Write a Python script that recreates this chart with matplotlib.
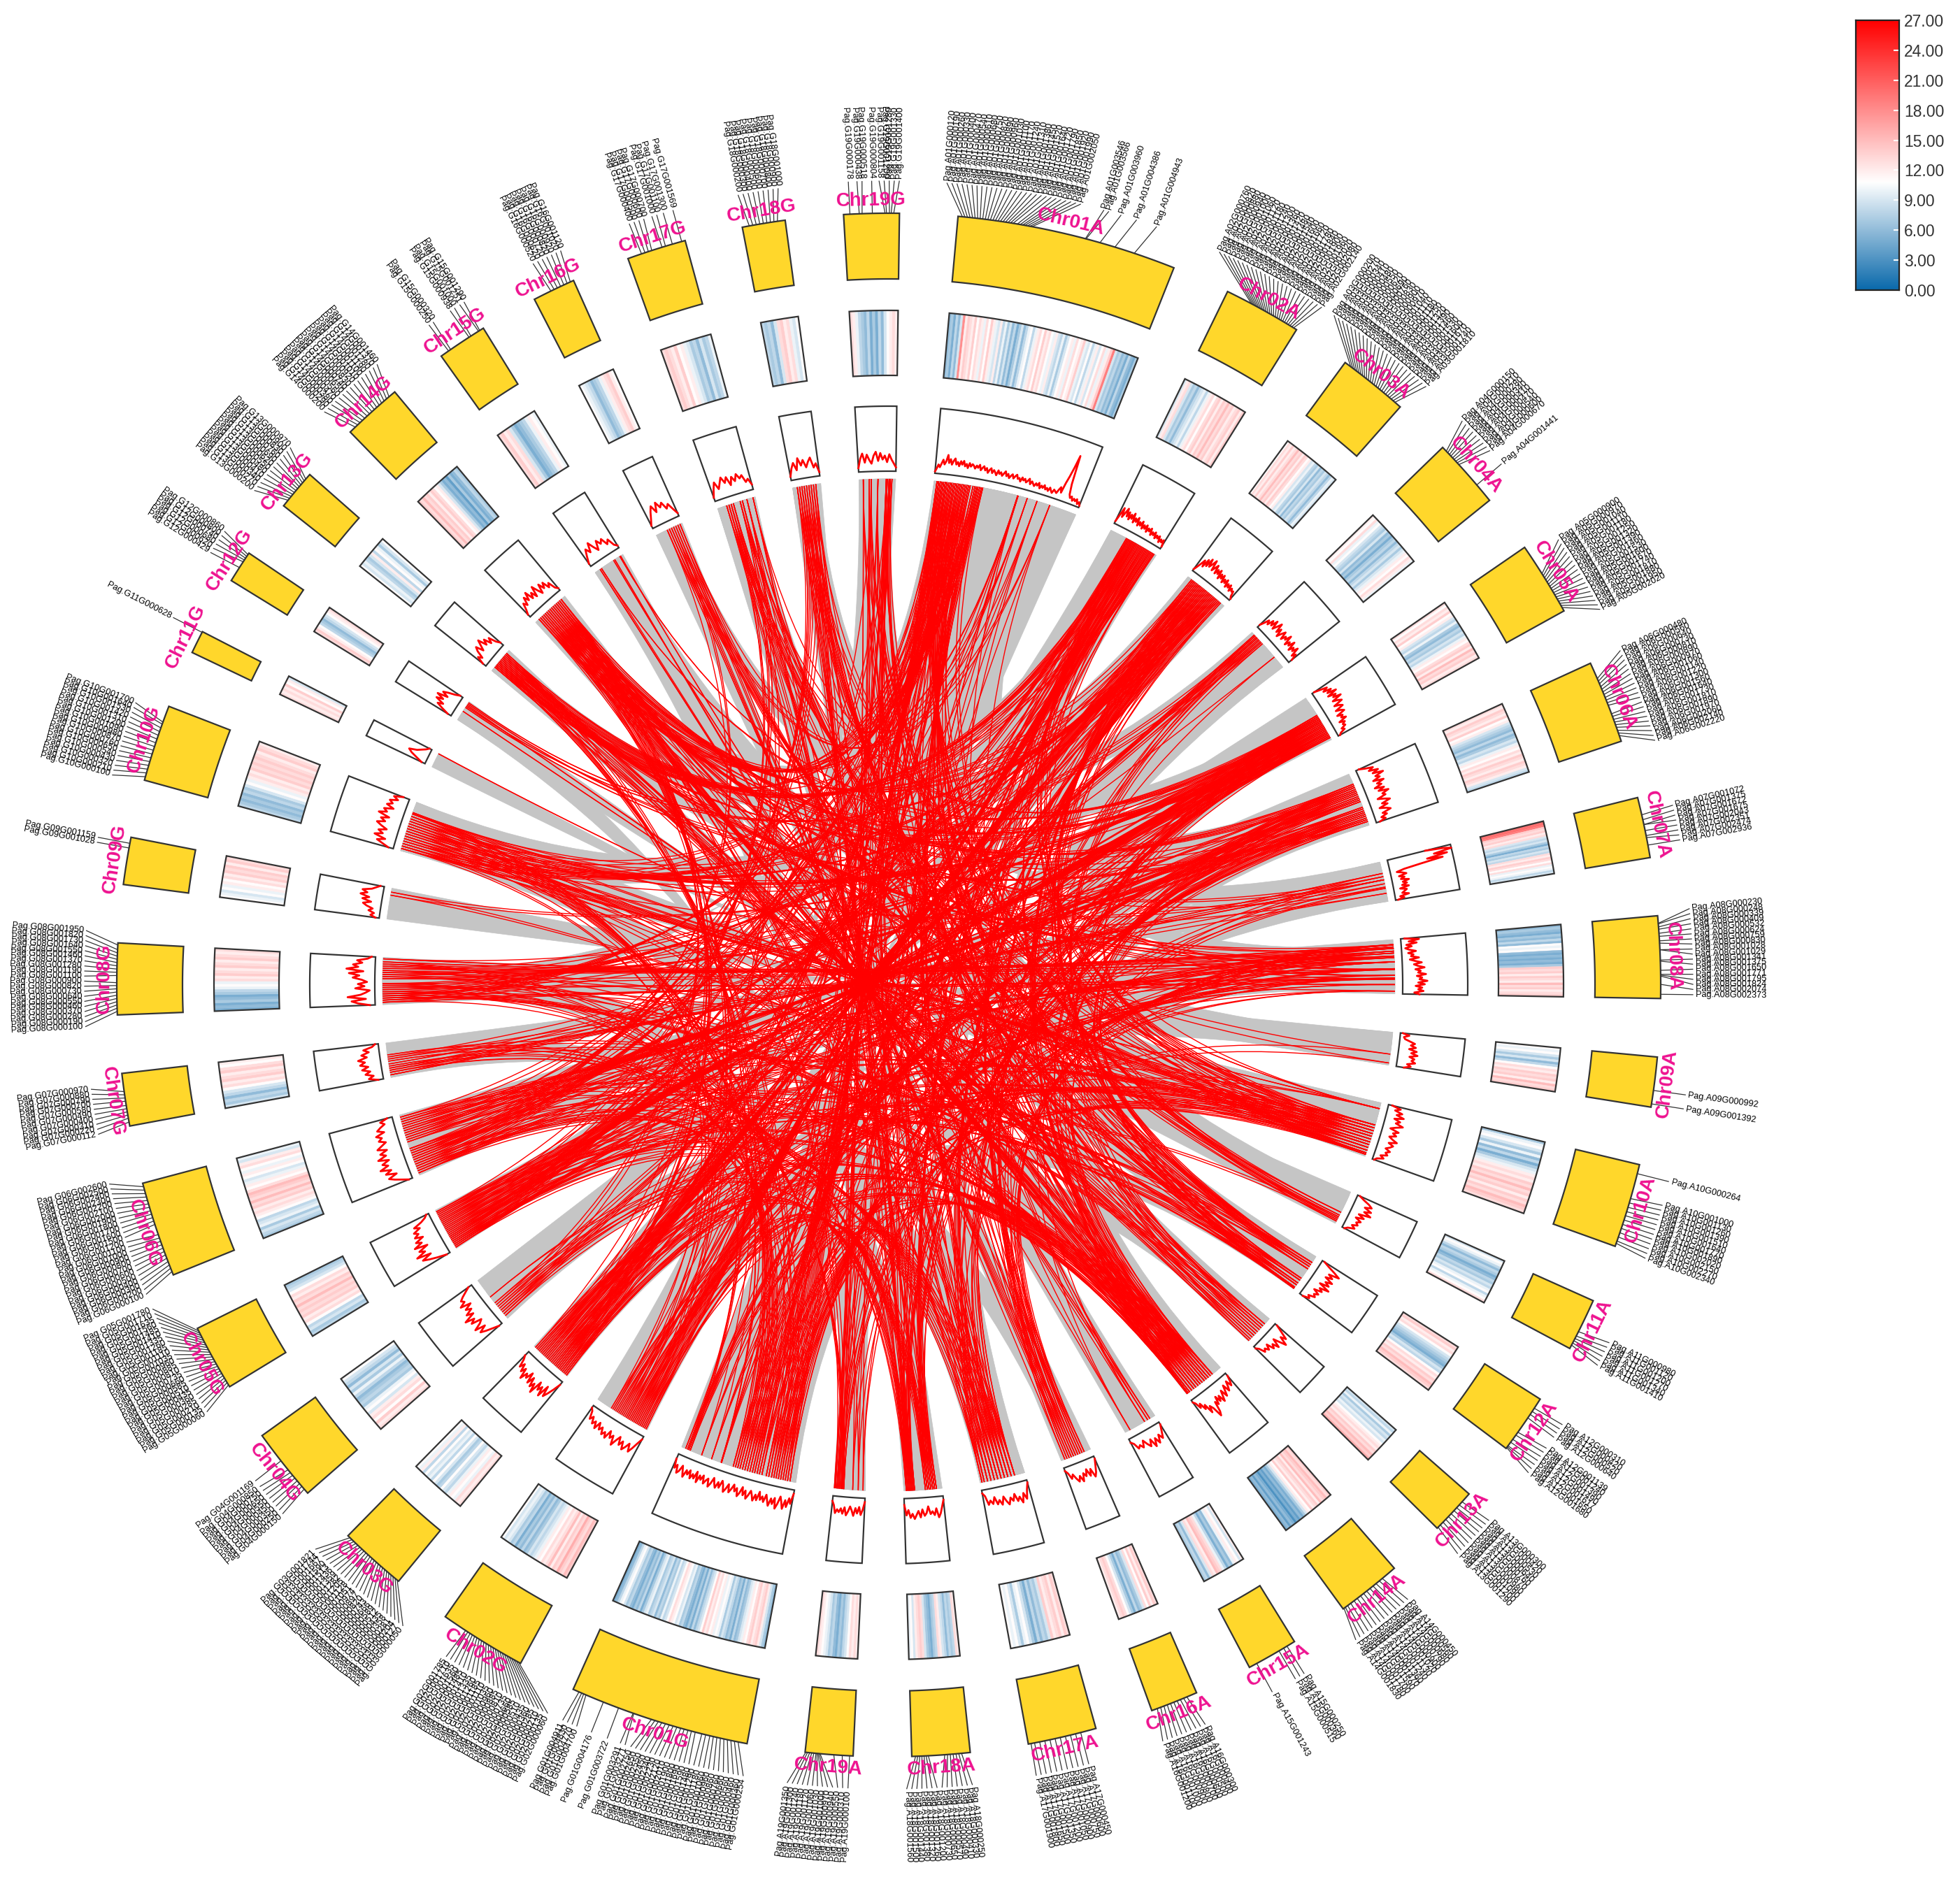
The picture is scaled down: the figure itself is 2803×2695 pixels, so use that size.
import numpy as np
import matplotlib
matplotlib.use('Agg')
import matplotlib.pyplot as plt
from matplotlib.collections import PolyCollection, LineCollection
from matplotlib.colors import LinearSegmentedColormap, Normalize
from matplotlib.patches import Polygon

plt.rcParams['font.family'] = ['Liberation Sans', 'DejaVu Sans']

chroms = ['01A','02A','03A','04A','05A','06A','07A','08A','09A','10A','11A','12A','13A','14A','15A','16A','17A','18A','19A',
          '01G','02G','03G','04G','05G','06G','07G','08G','09G','10G','11G','12G','13G','14G','15G','16G','17G','18G','19G']
# chromosome lengths (Mb)
chrom_len = [66.1,23.4,21,21,22.2,24.9,18.2,24.6,15,25.3,15.8,17.8,13.9,19.4,15.4,14.3,20.6,17.4,14.3,
             54.2,26.3,20.2,21.8,19.8,28.7,15.8,21.4,14.2,23.1,6.9,9.7,12.1,17.8,15,12.9,17.8,12.9,16.6]
# number of annotated genes per chromosome
chrom_genes = [6100,2240,2010,2010,2130,2390,3700,2500,1490,2430,1520,1710,1330,1860,1480,1370,1980,1670,1370,
               5090,2470,1900,2050,1860,2700,1480,2010,1330,2170,650,910,1140,1670,1410,1220,1670,1220,1560]

gene_ids = {
'01A':[120,190,260,330,400,470,540,610,680,750,820,890,960,1030,1100,1170,1240,1310,1380,1450,1520,1640,1720,1790,1850,1920,1990,2050,3546,3566,3960,4386,4943],
'02A':[760,820,880,940,1000,1060,1120,1180,1240,1300,1360,1420,1480,1540,1600,1660,1720,1780,1840,1900,1960,2020,2080,2140],
'03A':[200,270,340,410,480,550,620,690,760,830,900,970,1040,1110,1180,1250,1320,1390,1460,1530,1600,1670,1740,1810],
'04A':[150,210,280,340,410,470,540,600,670,1441],
'05A':[900,970,1040,1110,1180,1250,1320,1390,1460,1530,1600,1670,1740,1810,1880,1950,2020],
'06A':[480,560,640,730,810,890,970,1060,1140,1220,1300,1560,1640,1730,1810,1890,1970,2060,2140,2220],
'07A':[1072,1375,1672,1675,2043,2351,2474,2936],
'08A':[230,248,339,409,532,624,759,830,1028,1029,1341,1375,1650,1771,1795,1824,2074,2373],
'09A':[992,1392],
'10A':[264,1000,1130,1260,1390,1510,1640,1770,1890,2020,2150,2270,2340],
'11A':[980,1120,1200,1270,1340,1410],
'12A':[310,420,520,640,1139,1240,1390,1490,1617,1650,1680],
'13A':[300,420,530,640,760,870,980,1090,1200,1290],
'14A':[450,560,680,790,900,1020,1130,1240,1360,1470,1590,1700,1780,1830],
'15A':[250,360,515,1243],
'16A':[300,400,500,600,700,800,900,1000,1100,1200],
'17A':[450,600,750,900,1050,1200,1350,1500,1650,1800,1900],
'18A':[250,330,410,490,570,650,730,1200,1260,1320,1380,1440,1500,1560],
'19A':[100,310,550,940,970,1000,1030,1060,1120,1180,1240,1300,1350],
'01G':[254,360,460,560,660,760,860,960,1060,1180,1290,1480,1590,1690,1800,1900,2010,2120,2230,2340,2450,2550,2650,2750,3271,3291,3722,4176,4700,4770,4830,4911],
'02G':[60,135,210,285,360,435,510,585,660,735,810,885,960,1035,1110,1185,1260,1335,1410,1485,1560,1635,1710,1785],
'03G':[50,127,204,281,358,435,512,589,666,743,820,897,974,1051,1128,1205,1282,1359,1436,1513,1590,1667,1744,1821],
'04G':[150,250,350,450,550,650,750,850,1169],
'05G':[60,135,210,285,360,435,510,585,660,735,810,885,960,1035,1110,1185,1260,1335,1410,1485,1560,1635,1710,1780],
'06G':[100,200,300,400,500,600,700,800,900,1000,1100,1200,1500,1600,1700,1800,1900,2000,2100,2200,2300,2400,2500,2600],
'07G':[112,220,310,400,490,580,700,790,880,970],
'08G':[100,190,280,370,460,550,640,730,820,900,1100,1190,1280,1370,1460,1550,1640,1730,1820,1950],
'09G':[1028,1159],
'10G':[100,210,320,430,540,650,760,870,980,1090,1200,1310,1420,1530,1640,1700],
'11G':[628],
'12G':[429,620,680,740,800,860],
'13G':[200,270,340,410,480,550,620,690,760,830,900,970],
'14G':[200,290,380,470,560,650,740,830,920,1010,1100,1190,1280,1370,1460],
'15G':[250,320,938,1000,1251,1290],
'16G':[520,620,720,820,920,1020,1120],
'17G':[400,500,600,700,1000,1100,1300,1569],
'18G':[200,300,400,500,600,700,800,900,1000],
'19G':[178,438,518,804,1158,1200,1280,1330,1400],
}

# label block offset from the gene loci, degrees
label_shift = {'02A':-1.4,'03A':-1.1,'02G':-1.7,'03G':-0.6,'05G':1.0,'01A':0.9}

link_targets = {
'01A':['01G','01G','08G','11A','06G','01G','14G','03G','14A','05G','17A','13G'],
'02A':['02G','02G','10G','01G','16A','13G','05G','10A','18A'],
'03A':['03G','03G','06G','14G','12A','01G','08G','17A','14A'],
'04A':['04G','10G','05G','12A','16A'],
'05A':['05G','05G','01G','10G','17A','13G','03G','14A'],
'06A':['06G','06G','01G','14G','18A','08G','05G','02G','12A'],
'07A':['07G','14G','10G','01G','14A'],
'08A':['08G','08G','01G','13G','16A','06G','14G','03G','19A'],
'09A':['13G','01G'],
'10A':['10G','10G','02A','17G','03G','19G','01A','14G','05A'],
'11A':['16G','01A','05G','17G','03A'],
'12A':['19G','14G','03A','18G','01A','16G','06A'],
'13A':['13G','18G','02A','14G','01A','05A'],
'14A':['14G','14G','19G','03A','17G','01A','08G','06A'],
'15A':['15G','01A','06A','19G'],
'16A':['16G','19G','05A','03A','01A','08A'],
'17A':['17G','01A','18G','05A','06A','14G','03A','10A'],
'18A':['18G','19G','02A','01A','17G','06A','08A','03A'],
'19A':['19G','01A','18G','05A','14G','02A','08A'],
'01G':['01A','01A','17A','06A','10G','14A','03A','10A','18A','06G','19G','13G'],
'02G':['02A','02A','14A','06A','18A','08A','10G','01A','14G'],
'03G':['03A','03A','18A','10A','14A','05A','01A','08A','14G'],
'04G':['04A','10A','18A','14A','14G'],
'05G':['05A','05A','14A','17A','08A','10A','02A','12A','17G'],
'06G':['06A','06A','12A','17A','08A','14A','01A','10A','18G'],
'07G':['07A','18A','12A','05A','01G'],
'08G':['08A','08A','13A','19A','05A','14A','03A','10A','01G'],
'09G':['05A','12A'],
'10G':['10A','10A','05A','01A','12A','14A','03A','01G'],
'11G':['10A'],
'12G':['12A','06A','03A'],
'13G':['13A','02A','08A','14A','01G'],
'14G':['14A','14A','01A','05A','10A','17A','06A','03G'],
'15G':['15A','05A','14A'],
'16G':['16A','12A','01A','06G'],
'17G':['17A','12A','05A','10A','03G'],
'18G':['18A','13A','08A','01A','06G'],
'19G':['19A','01A','12A','14A','18A','05G'],
}

# gene-density stripes per chromosome
heat_values = {
'01A':[6,7,5,8,6,9,18,12,14,13,12,14,11,13,12,10,13,11,14,12,10,9,12,8,10,7,9,6,8,5,7,9,6,8,10,11,8,10,12,13,11,14,12,13,11,10,12,9,8,10,7,9,11,12,10,13,11,12,14,10,9,11,8,10,12,9,11,13,10,12,14,19,9,7,8,6,7,5,8,6,5,7],
'02A':[9,12,13,9,7,8,6,8,9,10,8,10,12,13,11,13,14,12,14,13,15,13,14,12,13,14,12,14],
'03A':[11,13,12,14,12,13,15,13,14,12,14,13,11,12,9,10,8,7,9,6,8,7,9,8,6,8,10,9],
'04A':[12,11,13,10,11,9,8,7,9,6,7,5,7,8,6,8,9,7,9,10,12,11,13,12,10],
'05A':[13,11,13,12,14,11,12,9,8,10,7,6,8,7,9,8,10,12,11,13,14,12,15,13,14,12,13],
'06A':[13,12,14,13,12,14,11,12,9,8,7,6,8,6,7,9,8,10,12,11,13,12,14,13,12,14,13,12,9,8],
'07A':[20,20,19,14,13,14,12,13,9,8,9,7,5,8,7,9,8,13,12,14,13,11,13,10,11,10,8,9],
'08A':[6,7,6,5,7,6,8,6,11,10,11,6,5,6,5,6,5,7,14,13,14,12,14,13,12,15,13,14,12,13,14],
'09A':[11,10,11,9,7,9,6,8,11,13,12,14,13,14,12,15,13,14],
'10A':[7,10,11,9,7,10,6,8,5,7,9,10,12,13,12,14,13,15,13,14,12,14,13,15,14,13],
'11A':[9,11,10,8,6,8,7,5,6,8,7,9,8,10,11,8,10,11,13],
'12A':[13,14,12,13,11,9,8,7,6,5,7,9,8,11,13,12,14,13,15,14,13],
'13A':[9,8,10,7,9,8,10,9,11,12,13,12,14,13,15,14,16],
'14A':[14,13,15,14,13,15,12,14,13,12,14,11,12,9,7,5,6,4,5,3,5,6,4,6,5],
'15A':[12,9,11,12,10,6,7,5,8,10,13,14,15,12,13,9,6,8,7],
'16A':[13,14,12,14,11,13,9,7,6,8,5,7,9,11,13,14,13,12],
'17A':[13,14,12,14,13,12,14,9,7,8,6,8,5,7,9,11,10,7,9,11,10,11],
'18A':[12,13,8,7,8,6,8,9,12,13,8,7,5,6,7,9,13,14,13,12,9,11,10],
'19A':[12,13,12,13,11,9,8,6,7,5,6,8,7,9,10,11,12,13],
'01G':[6,7,9,12,14,13,12,14,13,11,12,10,9,7,6,8,5,7,6,8,9,7,10,11,10,12,11,13,12,14,11,9,8,6,8,5,7,5,6,8,7,10,9,11,12,13,11,9,8,10,7,8,6,9,8,7,10,9,7,5,8,6,7,5,6,8,7,9,11,10,8,6,5],
'02G':[14,15,13,14,16,13,14,12,15,13,12,13,11,12,10,9,8,9,7,6,8,6,7,5,8,7,9,10,9,11],
'03G':[13,12,13,10,11,12,10,8,9,11,8,7,9,11,8,10,9,11,8,12,10,11],
'04G':[13,12,14,11,13,12,9,11,10,7,8,7,6,8,10,7,9,6,8,9,11],
'05G':[8,7,9,8,11,13,12,14,13,14,13,15,13,14,12,13,11,9,8,7],
'06G':[7,8,9,7,10,9,8,11,12,13,12,14,13,15,13,14,15,13,11,12,10,9,11,12,10,11,13,12,9,10],
'07G':[9,7,8,6,8,9,11,13,12,14,13,12,14,13,11,12],
'08G':[5,6,5,7,6,5,7,8,10,11,10,13,12,14,13,12,14,13,12,14,13,12,13],
'09G':[11,10,9,11,10,12,11,13,12,14,13,14,12,14,13],
'10G':[8,7,6,7,6,8,7,9,11,10,12,13,12,14,13,14,13,14,13,12,14,13,12],
'11G':[13,12,13,12,14,11,12,9],
'12G':[13,14,12,11,8,7,6,8,9,11,12,13],
'13G':[11,9,10,8,7,9,12,8,11,10,7,9,11],
'14G':[14,13,15,13,14,12,14,13,11,12,9,7,5,6,4,7,5,6,8,7],
'15G':[13,14,12,13,9,7,5,6,7,8,10,12,11,10],
'16G':[11,10,9,8,6,7,8,10,12,13,14,12,11],
'17G':[13,14,13,12,14,11,12,10,9,7,8,6,9,7,8,10],
'18G':[8,7,8,6,9,13,14,12,13,10,9,11],
'19G':[13,12,10,8,7,6,8,5,7,5,8,6,9,11,12,13,12],
}

# line track, % of the track height
line_values = {
'01A':[3,8,14,10,16,22,15,20,30,18,24,16,22,26,17,21,15,23,18,24,16,20,14,22,17,21,19,15,20,17,22,14,18,21,15,19,12,17,20,13,18,15,11,19,14,17,12,16,20,13,17,11,15,18,12,16,19,13,15,10,17,13,16,11,14,18,10,15,12,9,14,11,16,8,13,10,15,9,12,8,14,10,7,13,11,9,15,20,12,28,40,55,75,30,14,9,12,6,10,7,11,4,8,3],
'02A':[4,16,28,14,22,30,18,26,15,24,18,28,14,22,17,25,13,20,15,23,12,19,14,21,11,18,14,20,10,16,12,18,9,15,11,16,7,13,9,14,4],
'03A':[3,9,16,24,14,28,18,32,20,26,34,18,24,30,17,25,19,27,14,23,17,24,13,20,15,22,11,18,13,19,10,16,12,14,6,3],
'04A':[5,12,20,14,24,17,28,15,22,30,16,24,12,20,26,14,22,18,28,13,21,16,26,12,20,15,24,10,16,6],
'05A':[4,14,24,16,28,20,34,18,30,24,36,20,28,33,18,26,30,16,24,28,14,22,18,25,12,20,15,18,10,14,6,3],
'06A':[5,14,26,18,32,22,38,24,30,18,34,22,28,16,30,20,35,24,28,14,24,32,18,26,12,22,28,14,20,10,16,6],
'07A':[60,88,100,72,92,60,84,50,22,10,18,24,12,20,14,26,16,22,14,24,10,20,16,12,22,8,14,4],
'08A':[6,28,12,24,8,16,6,12,22,10,18,14,26,12,20,30,18,24,34,20,28,24,36,22,30,26,38,24,34,20,30,24,32,18,26],
'09A':[4,14,6,8,16,24,18,26,16,28,20,30,18,26,22,28,16,22,12],
'10A':[6,20,12,24,16,28,14,24,18,30,20,12,26,18,24,14,20,28,16,24,20,14,22,16,20,10,16,6,3],
'11A':[4,12,22,28,18,30,20,32,14,24,12,22,16,20,12,18,8,4],
'12A':[4,14,26,36,20,28,18,32,22,30,16,34,20,26,14,24,18,22,12,16,6],
'13A':[4,16,28,20,34,24,14,28,18,24,12,20,14,18,8,4],
'14A':[5,14,20,10,18,24,12,20,28,16,24,32,20,28,18,30,24,40,46,30,24,34,18,24,12,18,8,4],
'15A':[4,14,24,16,28,18,30,16,26,20,12,22,16,20,10,6],
'16A':[4,14,24,30,16,26,14,24,18,30,20,28,22,14,20,10,5],
'17A':[4,14,28,18,32,22,28,16,26,20,30,24,16,28,20,26,14,24,18,24,10,5],
'18A':[6,16,26,32,18,28,22,26,14,24,28,18,30,20,26,32,24,30,18,26,10],
'19A':[6,18,26,14,24,16,28,20,14,22,28,16,26,18,24,20,26,14,8],
'01G':[6,22,14,28,18,32,22,14,26,34,18,28,20,32,24,16,28,20,26,14,28,20,30,22,16,24,30,18,26,14,24,30,18,24,14,22,28,16,24,30,20,14,26,18,28,22,14,24,30,18,22,28,16,24,18,30,14,26,20,28,16,24,18,30,22,14,24,28,16,22,8],
'02G':[5,14,24,32,20,28,34,22,30,18,26,36,22,28,18,32,24,30,20,26,16,28,18,24,14,20,8,4],
'03G':[6,18,28,36,20,40,26,34,22,44,30,38,24,36,20,32,26,38,22,30,18,26,14,8],
'04G':[6,16,26,34,22,38,26,20,36,28,42,24,34,22,30,18,34,24,28,22,14,6],
'05G':[6,20,32,42,26,48,32,40,24,44,30,38,24,36,28,34,22,30,16,8,4],
'06G':[6,16,26,34,20,36,26,42,28,36,24,40,26,34,22,36,28,20,30,24,32,18,28,22,14,20,8],
'07G':[8,22,14,26,18,30,20,32,24,34,20,28,16,24,10,5],
'08G':[8,26,36,14,42,22,14,8,30,16,26,12,20,34,24,40,18,44,26,34,20,28,12,6],
'09G':[6,14,9,18,12,22,28,16,30,20,34,24,32,18,12,6],
'10G':[8,18,28,16,34,22,30,18,28,36,24,32,20,38,26,32,18,30,22,28,16,24,10],
'11G':[6,16,26,32,20,14,8,4],
'12G':[6,18,28,20,34,24,36,20,30,22,12,5],
'13G':[6,18,12,24,30,18,26,34,20,28,16,24,12,6],
'14G':[5,12,22,16,28,20,32,18,26,16,32,22,14,28,18,26,14,20,8,4],
'15G':[5,16,26,18,32,22,14,28,20,26,14,20,8,4],
'16G':[5,14,24,32,20,34,24,30,18,24,14,5],
'17G':[6,18,28,16,24,32,22,30,16,28,20,30,22,26,14,18,8],
'18G':[6,18,26,14,32,20,28,16,24,30,14,20,6],
'19G':[6,20,28,14,26,18,12,24,30,16,28,18,24,14,26,18,12,6],
}

# extra paralogous synteny blocks besides A/G homeologues:
# chromosome, start %, end %, partner, start %, end %
extra_blocks = [
('01A',40,100,'08G',0,70),('01A',0,40,'14G',20,90),('02A',0,60,'05G',10,80),('03A',20,90,'10G',0,70),
('04A',0,60,'13G',10,90),('05A',10,80,'01G',30,50),('06A',10,70,'02G',0,70),('07A',0,70,'16G',10,90),
('08A',20,90,'03G',10,80),('09A',0,80,'06G',30,70),('10A',30,90,'04G',0,70),('11A',10,90,'19G',10,90),
('12A',10,80,'14G',40,90),('13A',0,90,'17G',0,80),('14A',0,60,'01G',60,80),('15A',0,90,'18G',0,80),
('16A',10,90,'07G',0,80),('17A',0,80,'10G',20,90),('18A',20,80,'12G',0,100),('19A',10,90,'15G',0,90),
('02A',50,100,'17A',0,60),('05A',30,90,'14A',20,80),('08A',10,60,'01A',60,80),('03G',20,90,'12A',20,90),
('06G',10,80,'18A',10,70),('08G',50,100,'16A',10,80),('10G',30,100,'03A',0,50),('14G',10,70,'06A',60,100),
('01G',0,30,'10A',20,80),('01G',80,100,'05A',40,90),('05G',10,70,'13A',10,80),('02G',50,100,'19G',0,90),
('01A',20,70,'06G',0,60),('03A',0,60,'17A',30,90),('04A',30,100,'18A',20,90),('06A',40,100,'14A',0,60),
('07A',20,100,'01G',40,60),('09A',20,100,'13G',0,80),('10A',0,60,'05G',30,90),('12A',30,100,'03G',0,60),
('14A',30,100,'10G',0,60),('17A',30,100,'08G',20,80),('19A',0,80,'01A',30,50),('18G',0,90,'06A',20,70),
('16G',0,90,'05A',20,70),('17G',0,90,'12A',0,70),('13G',0,80,'02A',30,80),('15G',0,90,'10A',40,80),
]

CX, CY = 1271.0, 1409.0
CTRL = (1236.0, 1405.0)
GAP = 4.355
START = 5.15
R_YEL = (1010, 1104)
R_HEAT = (872, 965)
R_LINE = (735, 828)
R_LINK = 724
R_LEAD = 1150
R_TEXT = 1154
R_NAME = 1122
YELLOW = '#FFD72B'
EDGE = '#333333'
GREY = '#C5C5C5'
PINK = '#EE1290'

scale = (360 - GAP * len(chroms)) / sum(chrom_len)
angles = {}
a = START
for c, l in zip(chroms, chrom_len):
    angles[c] = (a, a + l * scale)
    a += l * scale + GAP
genes_of = dict(zip(chroms, chrom_genes))


def xy(r, deg):
    t = np.radians(deg)
    return CX + r * np.sin(t), CY - r * np.cos(t)


def sector_poly(r0, r1, a0, a1, n=40):
    t = np.linspace(a0, a1, n)
    x1, y1 = xy(r1, t)
    x0, y0 = xy(r0, t[::-1])
    return np.column_stack([np.r_[x1, x0], np.r_[y1, y0]])


def frac_angle(c, f):
    a0, a1 = angles[c]
    return a0 + (a1 - a0) * f


def bezier(p0, p1, n=40):
    s = np.linspace(0, 1, n)[:, None]
    p0 = np.array(p0)
    p1 = np.array(p1)
    return (1 - s) ** 2 * p0 + 2 * s * (1 - s) * np.array(CTRL) + s ** 2 * p1


def ribbon(c1, f0, f1, c2, g0, g1):
    a0, a1 = frac_angle(c1, f0), frac_angle(c1, f1)
    b0, b1 = frac_angle(c2, g0), frac_angle(c2, g1)
    arc1 = np.column_stack(xy(R_LINK, np.linspace(a0, a1, 12)))
    arc2 = np.column_stack(xy(R_LINK, np.linspace(b1, b0, 12)))
    return np.vstack([arc1, bezier(arc1[-1], arc2[0]), arc2, bezier(arc2[-1], arc1[0])])


fig = plt.figure(figsize=(28.03, 26.95), dpi=100)
ax = fig.add_axes([0, 0, 1, 1])
ax.set_xlim(0, 2803)
ax.set_ylim(2695, 0)
ax.axis('off')

# grey synteny ribbons
for n in range(19):
    A, G = chroms[n], chroms[n + 19]
    ax.add_patch(Polygon(ribbon(A, 0, 1, G, 0, 1), closed=True, fc=GREY, ec=GREY, lw=0.5, zorder=1))
for c1, f0, f1, c2, g0, g1 in extra_blocks:
    ax.add_patch(Polygon(ribbon(c1, f0 / 100, f1 / 100, c2, g0 / 100, g1 / 100), closed=True, fc=GREY, ec=GREY, lw=0.5, zorder=1))

# red gene-pair links
cursor = {c: 0 for c in chroms}
segs = []
for c in chroms:
    tg = link_targets[c]
    for k, gid in enumerate(gene_ids[c]):
        for step in (0, 3):
            t = tg[(k + step) % len(tg)]
            other = gene_ids[t][cursor[t] % len(gene_ids[t])]
            cursor[t] += 1
            p0 = xy(R_LINK, frac_angle(c, gid / genes_of[c]))
            p1 = xy(R_LINK, frac_angle(t, other / genes_of[t]))
            segs.append(bezier(p0, p1))
ax.add_collection(LineCollection(segs, colors='#FF0000', linewidths=1.0, zorder=2))

cmap = LinearSegmentedColormap.from_list('rb', [(0, '#0A69AB'), (10.8 / 27, '#FFFFFF'), (1, '#FF0000')])
norm = Normalize(0, 27)

for c in chroms:
    a0, a1 = angles[c]
    # yellow ideogram
    ax.add_patch(Polygon(sector_poly(*R_YEL, a0, a1), closed=True, fc=YELLOW, ec=EDGE, lw=1.6, zorder=3))
    # heat ring
    vals = np.array(heat_values[c], dtype=float)
    ed = np.linspace(a0, a1, len(vals) + 1)
    polys = [sector_poly(*R_HEAT, ed[i], ed[i + 1], n=4) for i in range(len(vals))]
    pc = PolyCollection(polys, array=vals, cmap=cmap, norm=norm, edgecolors='face', linewidths=0.3, zorder=3)
    ax.add_collection(pc)
    ax.add_patch(Polygon(sector_poly(*R_HEAT, a0, a1), closed=True, fc='none', ec=EDGE, lw=1.6, zorder=4))
    # line track
    ax.add_patch(Polygon(sector_poly(*R_LINE, a0, a1), closed=True, fc='white', ec=EDGE, lw=1.6, zorder=3))
    lv = np.array(line_values[c], dtype=float)
    ta = np.linspace(a0, a1, len(lv))
    lx, ly = xy(R_LINE[0] + lv / 100 * (R_LINE[1] - R_LINE[0]), ta)
    ax.plot(lx, ly, color='#FF0000', lw=2.0, zorder=4)

    # chromosome name
    mid = (a0 + a1) / 2
    nx, ny = xy(R_NAME, mid)
    rot = -mid if (mid < 90 or mid > 270) else 180 - mid
    ax.text(nx, ny, 'Chr' + c, color=PINK, fontsize=20, fontweight='bold', rotation=rot,
            rotation_mode='anchor', ha='center', va='center', zorder=7)

    # gene labels
    ids = sorted(gene_ids[c])
    ga = [frac_angle(c, g / genes_of[c]) for g in ids]
    la = list(ga)
    sep = 0.36
    for _ in range(300):
        for i in range(len(la) - 1):
            d = la[i + 1] - la[i]
            if d < sep:
                la[i] -= (sep - d) / 2
                la[i + 1] += (sep - d) / 2
    la = [v + label_shift.get(c, 0) for v in la]
    prefix = 'Pag.' + c[2] + c[:2] + 'G'
    for g, g_a, l_a in zip(ids, ga, la):
        x0, y0 = xy(R_YEL[1], g_a)
        x1, y1 = xy(R_LEAD, l_a)
        ax.plot([x0, x1], [y0, y1], color='#333333', lw=0.9, zorder=5)
        tx, ty = xy(R_TEXT, l_a)
        right = (l_a % 360) < 180
        ax.text(tx, ty, f'{prefix}{g:06d}', fontsize=9.2, color='black',
                rotation=(90 - l_a) if right else (270 - l_a), rotation_mode='anchor',
                ha='left' if right else 'right', va='center', zorder=6)

# colour bar
cax = fig.add_axes([2654 / 2803, 1 - 415 / 2695, 62 / 2803, 386 / 2695])
grad = np.linspace(0, 27, 256)[:, None]
cax.imshow(grad, origin='lower', aspect='auto', cmap=cmap, norm=norm, extent=[0, 1, 0, 27])
cax.set_xticks([])
bar_ticks = [0, 3, 6, 9, 12, 15, 18, 21, 24, 27]
cax.yaxis.tick_right()
cax.set_yticks(bar_ticks)
cax.set_yticklabels([f'{v:.2f}' for v in bar_ticks])
cax.tick_params(axis='y', direction='in', color='white', length=6, width=1.5, labelsize=16.5,
                labelcolor='#333333', pad=5)
for s in cax.spines.values():
    s.set_edgecolor('#222222')
    s.set_linewidth(1.6)

fig.savefig('out.png', dpi=100, facecolor='white')
